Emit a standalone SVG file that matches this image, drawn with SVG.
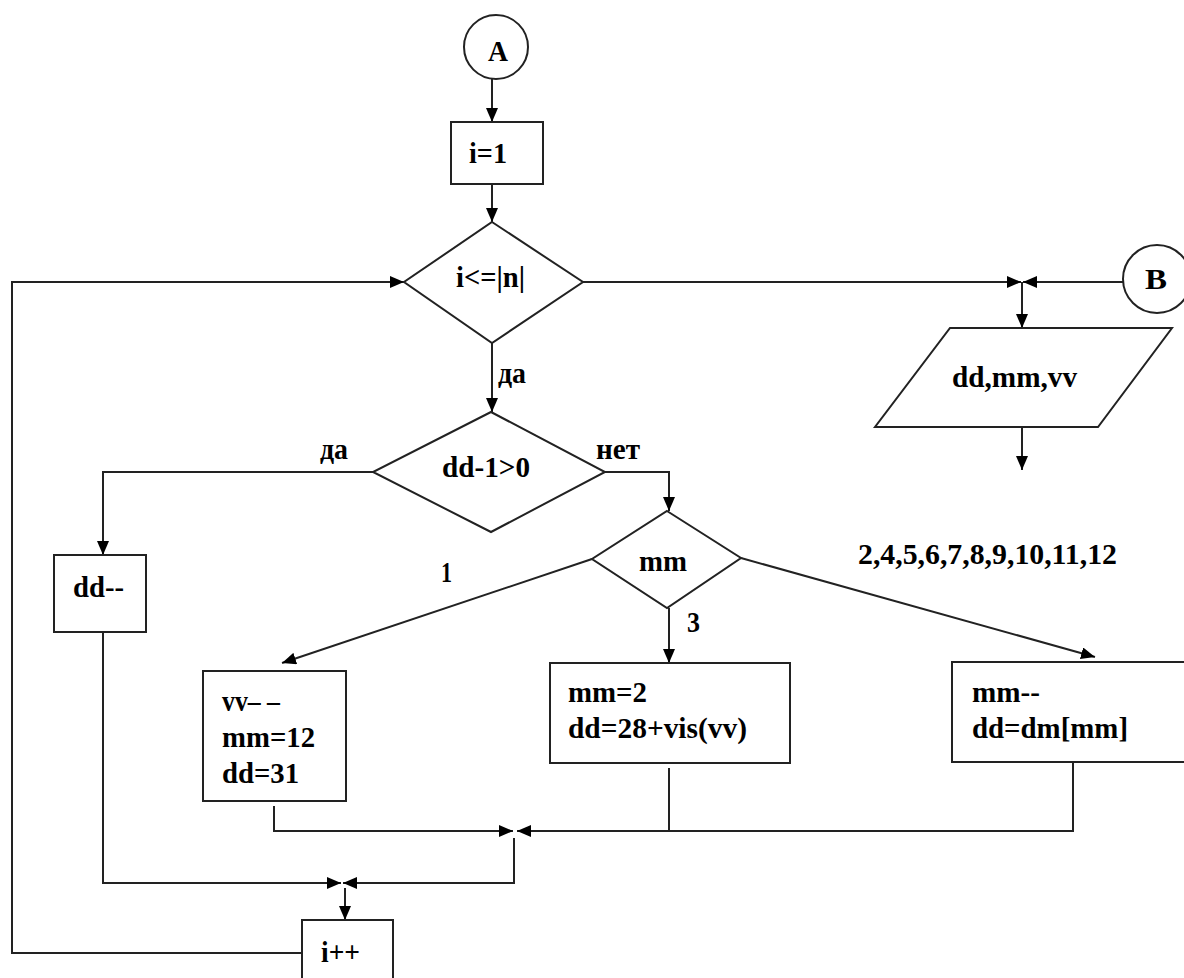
<svg xmlns="http://www.w3.org/2000/svg" width="1184" height="978" viewBox="0 0 1184 978">
<defs>
<marker id="ah" markerUnits="userSpaceOnUse" markerWidth="15" markerHeight="12" refX="14" refY="6" orient="auto">
<path d="M0,0 L14,6 L0,12 z" fill="#000"/>
</marker>
<style>
.s{fill:#fff;stroke:#222;stroke-width:2}
.c{fill:none;stroke:#222;stroke-width:2}
.a{fill:none;stroke:#222;stroke-width:2;marker-end:url(#ah)}
text{font-family:"Liberation Serif","Times New Roman",serif;font-weight:bold;font-size:30px;fill:#000}
</style>
</defs>
<rect width="1184" height="978" fill="#fff"/>
<g id="connectors">
<path class="a" d="M492,79 V122"/>
<path class="a" d="M492,184 V222"/>
<path class="a" d="M302,953 H12 V282 H404"/>
<path class="a" d="M583,282 H1021"/>
<path class="a" d="M1123,282 H1023"/>
<path class="a" d="M1022,282 V328"/>
<path class="a" d="M1022,427 V470"/>
<path class="a" d="M492,343 V412"/>
<path class="a" d="M373,472 H103 V555"/>
<path class="a" d="M605,472 H669 V511"/>
<path class="a" d="M592,559 L282,663"/>
<path class="a" d="M741,558 L1095,657"/>
<path class="a" d="M669,608 V663"/>
<path class="a" d="M274,806 V831 H513"/>
<path class="c" d="M669,768 V831"/>
<path class="a" d="M1073,762 V831 H517"/>
<path class="a" d="M514,838 V883 H343"/>
<path class="a" d="M103,632 V883 H341"/>
<path class="a" d="M345,888 V920"/>
</g>
<g id="nodeA"><circle class="s" cx="496" cy="47" r="32"/><text x="488" y="61" textLength="20" lengthAdjust="spacingAndGlyphs">A</text></g>
<g id="nodeI1"><rect class="s" x="451" y="122" width="92" height="62"/><text x="469" y="163" textLength="38" lengthAdjust="spacingAndGlyphs">i=1</text></g>
<g id="nodeCond1"><polygon class="s" points="492,222 583,282 492,343 404,282"/><text x="456" y="287" textLength="69" lengthAdjust="spacingAndGlyphs">i&lt;=|n|</text></g>
<g id="nodeB"><circle class="s" cx="1157" cy="279" r="34"/><text x="1145" y="289" textLength="22" lengthAdjust="spacingAndGlyphs">B</text></g>
<g id="nodeOut"><polygon class="s" points="950,328 1172,328 1098,427 875,427"/><text x="952" y="387" textLength="125" lengthAdjust="spacingAndGlyphs">dd,mm,vv</text></g>
<g id="nodeCond2"><polygon class="s" points="491,412 605,472 491,532 373,472"/><text x="442" y="477" textLength="88" lengthAdjust="spacingAndGlyphs">dd-1&gt;0</text></g>
<g id="nodeDec"><rect class="s" x="54" y="555" width="92" height="77"/><text x="73" y="597" textLength="51" lengthAdjust="spacingAndGlyphs">dd--</text></g>
<g id="nodeMM"><polygon class="s" points="667,511 741,558 667,608 592,559"/><text x="639" y="571" textLength="48" lengthAdjust="spacingAndGlyphs">mm</text></g>
<g id="nodeCase1"><rect class="s" x="203" y="671" width="143" height="130"/>
<text x="222" y="711" textLength="58" lengthAdjust="spacingAndGlyphs">vv– –</text>
<text x="222" y="747" textLength="93" lengthAdjust="spacingAndGlyphs">mm=12</text>
<text x="222" y="783" textLength="77" lengthAdjust="spacingAndGlyphs">dd=31</text></g>
<g id="nodeCase3"><rect class="s" x="550" y="663" width="240" height="100"/>
<text x="568" y="702" textLength="79" lengthAdjust="spacingAndGlyphs">mm=2</text>
<text x="568" y="738" textLength="179" lengthAdjust="spacingAndGlyphs">dd=28+vis(vv)</text></g>
<g id="nodeCaseOther"><rect class="s" x="952" y="662" width="260" height="100"/>
<text x="972" y="702" textLength="68" lengthAdjust="spacingAndGlyphs">mm--</text>
<text x="972" y="738" textLength="156" lengthAdjust="spacingAndGlyphs">dd=dm[mm]</text></g>
<g id="nodeInc"><rect class="s" x="302" y="920" width="91" height="80"/><text x="321" y="962" textLength="39" lengthAdjust="spacingAndGlyphs">i++</text></g>
<g id="labels">
<text x="498" y="383" textLength="28" lengthAdjust="spacingAndGlyphs">да</text>
<text x="320" y="459" textLength="28" lengthAdjust="spacingAndGlyphs">да</text>
<text x="596" y="459" textLength="44" lengthAdjust="spacingAndGlyphs">нет</text>
<text x="441" y="582" textLength="11" lengthAdjust="spacingAndGlyphs">1</text>
<text x="687" y="632" textLength="13" lengthAdjust="spacingAndGlyphs">3</text>
<text x="858" y="564" textLength="259" lengthAdjust="spacingAndGlyphs">2,4,5,6,7,8,9,10,11,12</text>
</g>
</svg>
